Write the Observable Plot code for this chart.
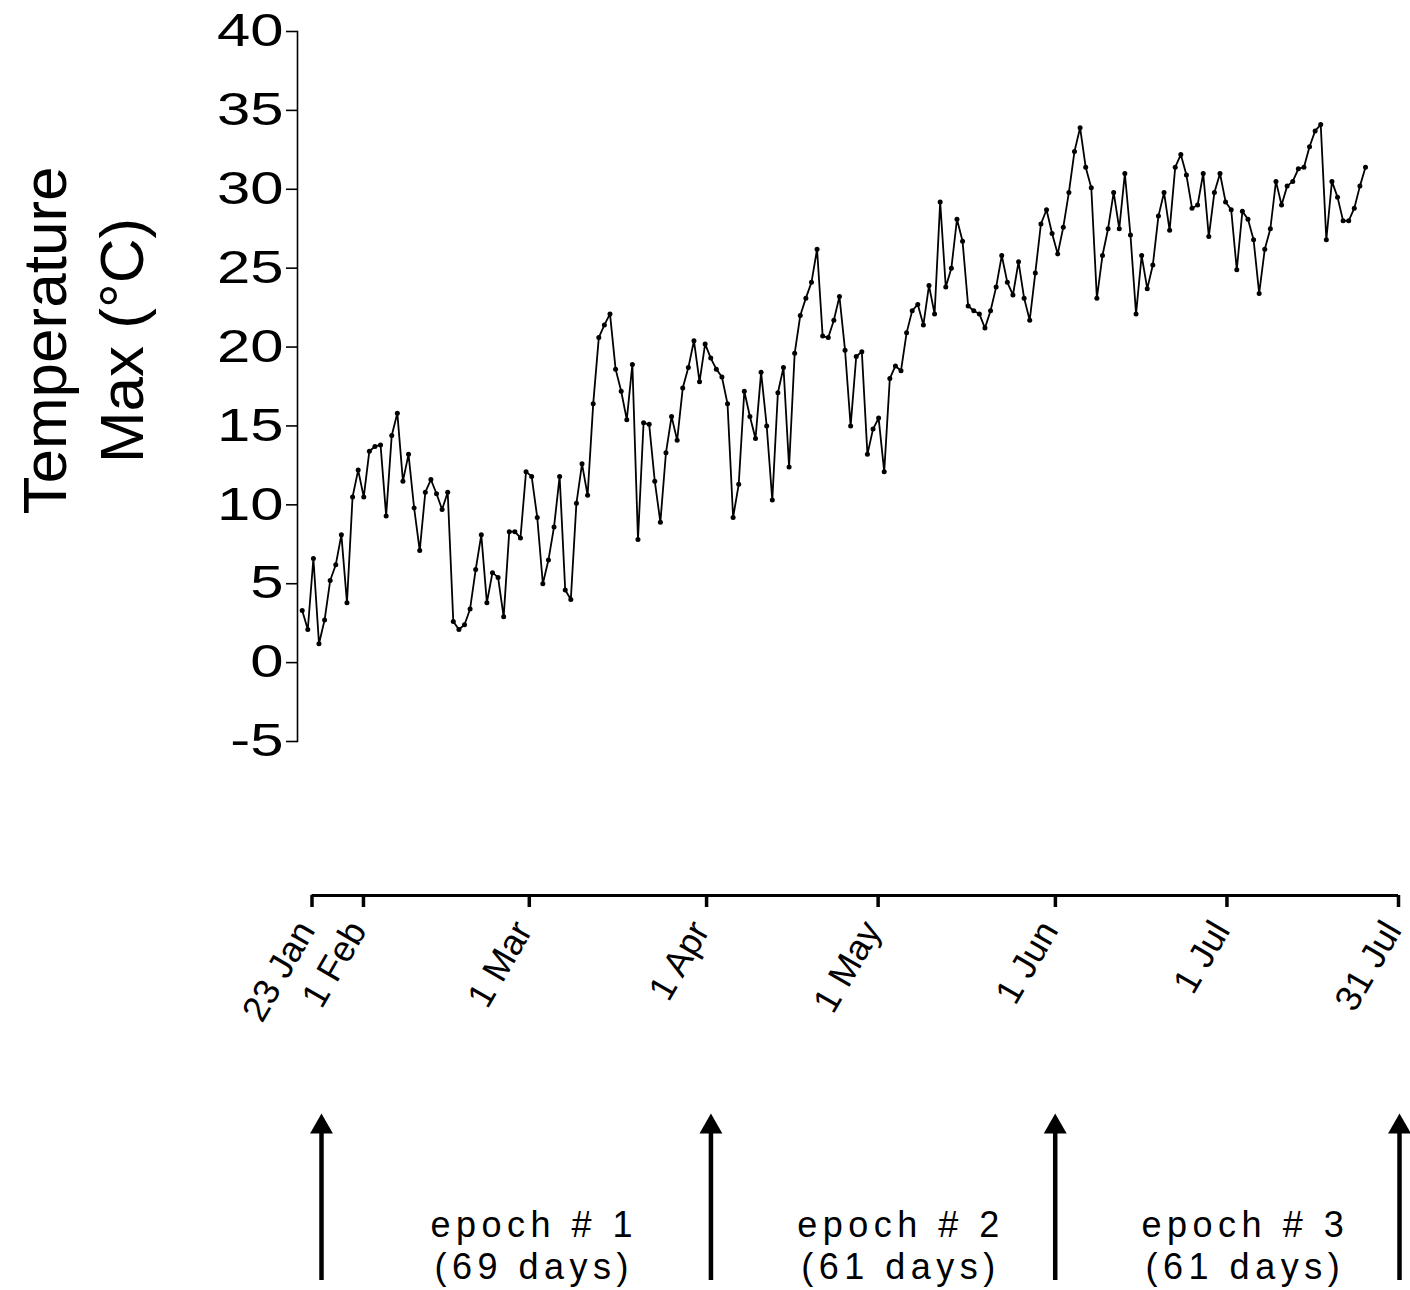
<!DOCTYPE html>
<html>
<head>
<meta charset="utf-8">
<script src="https://cdn.jsdelivr.net/npm/d3@7"></script>
<script src="https://cdn.jsdelivr.net/npm/@observablehq/plot@0.6"></script>
<style>
  html, body { margin: 0; padding: 0; background: #fff; }
  #chart { position: relative; width: 1410px; height: 1290px; background: #fff; overflow: hidden; }
  #chart > svg { position: absolute; left: 0; }
</style>
</head>
<body>
<div id="chart"></div>
<script>
// Daily maximum temperature (°C), 23 Jan – 31 Jul 2012
const firstDay = "2012-01-23";
const tmax = [
  3.3, 2.1, 6.6, 1.2, 2.7, 5.2, 6.2, 8.1, 3.8, 10.5,
  12.2, 10.5, 13.4, 13.7, 13.8, 9.3, 14.4, 15.8, 11.5, 13.2,
  9.8, 7.1, 10.8, 11.6, 10.7, 9.7, 10.8, 2.6, 2.1, 2.4,
  3.4, 5.9, 8.1, 3.8, 5.7, 5.4, 2.9, 8.3, 8.3, 7.9,
  12.1, 11.8, 9.2, 5.0, 6.5, 8.6, 11.8, 4.6, 4.0, 10.1,
  12.6, 10.6, 16.4, 20.6, 21.4, 22.1, 18.6, 17.2, 15.4, 18.9,
  7.8, 15.2, 15.1, 11.5, 8.9, 13.3, 15.6, 14.1, 17.4, 18.7,
  20.4, 17.8, 20.2, 19.3, 18.6, 18.1, 16.4, 9.2, 11.3, 17.2,
  15.6, 14.2, 18.4, 15.0, 10.3, 17.1, 18.7, 12.4, 19.6, 22.0,
  23.1, 24.1, 26.2, 20.7, 20.6, 21.7, 23.2, 19.8, 15.0, 19.4,
  19.7, 13.2, 14.8, 15.5, 12.1, 18.0, 18.8, 18.5, 20.9, 22.3,
  22.7, 21.4, 23.9, 22.1, 29.2, 23.8, 25.0, 28.1, 26.7, 22.6,
  22.3, 22.1, 21.2, 22.3, 23.8, 25.8, 24.1, 23.3, 25.4, 23.1,
  21.7, 24.7, 27.8, 28.7, 27.2, 25.9, 27.6, 29.8, 32.4, 33.9,
  31.4, 30.1, 23.1, 25.8, 27.5, 29.8, 27.5, 31.0, 27.1, 22.1,
  25.8, 23.7, 25.2, 28.3, 29.8, 27.4, 31.4, 32.2, 30.9, 28.8,
  29.0, 31.0, 27.0, 29.8, 31.0, 29.2, 28.7, 24.9, 28.6, 28.1,
  26.8, 23.4, 26.2, 27.5, 30.5, 29.0, 30.2, 30.5, 31.3, 31.4,
  32.7, 33.7, 34.1, 26.8, 30.5, 29.5, 28.0, 28.0, 28.8, 30.2,
  31.4
];

// Temperature axis
const yTicks = [-5, 0, 5, 10, 15, 20, 25, 30, 35, 40];
const yLabel = "Temperature\nMax (°C)";

// Date axis
const tickDates = ["2012-01-23", "2012-02-01", "2012-03-01", "2012-04-01",
                   "2012-05-01", "2012-06-01", "2012-07-01", "2012-07-31"];
const tickLabels = ["23 Jan", "1 Feb", "1 Mar", "1 Apr", "1 May", "1 Jun", "1 Jul", "31 Jul"];
const lastDay = "2012-07-31";

// Sampling epochs
const epochNames = ["epoch # 1", "epoch # 2", "epoch # 3"];
const epochDays = [69, 61, 61];

// ---- derived tables ----
const DAY = 864e5;
const t0 = new Date(firstDay + "T00:00Z");
const t1 = new Date(lastDay + "T00:00Z");
const series = tmax.map((v, i) => ({date: new Date(+t0 + i * DAY), tmax: v}));
const ticks = tickDates.map((d, i) => ({date: new Date(d + "T00:00Z"), label: tickLabels[i]}));
const labelOf = new Map(ticks.map(t => [+t.date, t.label]));

const bounds = [0];
epochDays.forEach(n => bounds.push(bounds[bounds.length - 1] + n));
const epochs = epochNames.map((name, i) => ({
  mid: (bounds[i] + bounds[i + 1]) / 2,
  text: `${name}\n(${epochDays[i]} days)`
}));

const font = "'Liberation Sans', Arial, Helvetica, sans-serif";
const W = 1410;
const root = document.getElementById("chart");

function place(svg, offset) {
  svg.style.top = offset + "px";
  root.appendChild(svg);
}

// ---- temperature series ----
const seriesPlot = Plot.plot({
  width: W,
  height: 770,
  marginLeft: 297,
  marginRight: 45,
  marginTop: 31,
  marginBottom: 29,
  style: {fontFamily: font, color: "#000", background: "transparent", overflow: "visible"},
  x: {type: "utc", domain: [t0, t1], insetLeft: 4.7, axis: null},
  y: {domain: [-5, 40], axis: null},
  marks: [
    Plot.frame({anchor: "left", stroke: "#000", strokeWidth: 1.6}),
    Plot.axisY({ticks: yTicks, tickSize: 11, tickPadding: 3, fontSize: 46,
                strokeWidth: 1.6, label: null, tickFormat: d => String(d)}),
    Plot.text([yLabel], {frameAnchor: "left", rotate: -90, textAnchor: "middle", fontSize: 62,
                         lineHeight: 1.25, dx: -218, dy: -46, fill: "#000"}),
    Plot.line(series, {x: "date", y: "tmax", stroke: "#000", strokeWidth: 1.8}),
    Plot.dot(series, {x: "date", y: "tmax", r: 2.5, fill: "#000", stroke: null})
  ]
});
place(seriesPlot, 0);

// the temperature tick numerals are set in a wide face
d3.select(seriesPlot).selectAll('g[aria-label="y-axis tick label"] text').each(function () {
  const w = this.getComputedTextLength();
  this.setAttribute("textLength", (w * 1.3).toFixed(1));
  this.setAttribute("lengthAdjust", "spacingAndGlyphs");
});

// ---- date axis ----
const tickValues = ticks.map(t => t.date);
const datePlot = Plot.plot({
  width: W,
  height: 300,
  marginLeft: 311.5,
  marginRight: 12,
  marginTop: 0,
  marginBottom: 175,
  style: {fontFamily: font, color: "#000", background: "transparent", overflow: "visible"},
  x: {type: "utc", domain: [t0, t1]},
  y: {domain: [0, 1], axis: null},
  marks: [
    Plot.ruleY([0], {stroke: "#000", strokeWidth: 3}),
    // tick marks only
    Plot.axisX({ticks: tickValues, tickSize: 12, strokeWidth: 3.5, fill: "none", label: null}),
    // rotated date labels only
    Plot.axisX({ticks: tickValues, tickFormat: d => labelOf.get(+d), stroke: "none",
                tickSize: 12, tickPadding: 17, tickRotate: -60, fontSize: 36, dx: -6, label: null})
  ]
});
place(datePlot, 770);

// ---- epoch arrows ----
const epochPlot = Plot.plot({
  width: W,
  height: 200,
  marginLeft: 321,
  marginRight: 11,
  marginTop: 23,
  marginBottom: 10,
  style: {fontFamily: font, color: "#000", background: "transparent", overflow: "visible", letterSpacing: "5.5px"},
  x: {domain: [0, bounds[bounds.length - 1]], axis: null},
  y: {domain: [0, 1], axis: null},
  marks: [
    // shafts run from the baseline up to just under the arrowheads
    Plot.ruleX(bounds, {x: d => d, y1: 1, y2: 0, insetTop: 14, stroke: "#000", strokeWidth: 4.5, strokeLinecap: "butt"}),
    Plot.dot(bounds, {x: d => d, y: () => 1, symbol: "triangle", r: 8.5, dy: 13.3, fill: "#000", stroke: null}),
    Plot.text(epochs, {x: "mid", text: "text", frameAnchor: "bottom", dy: -2, dx: 18,
                       fontSize: 36, lineHeight: 1.14, fill: "#000"})
  ]
});
place(epochPlot, 1090);
</script>
</body>
</html>
